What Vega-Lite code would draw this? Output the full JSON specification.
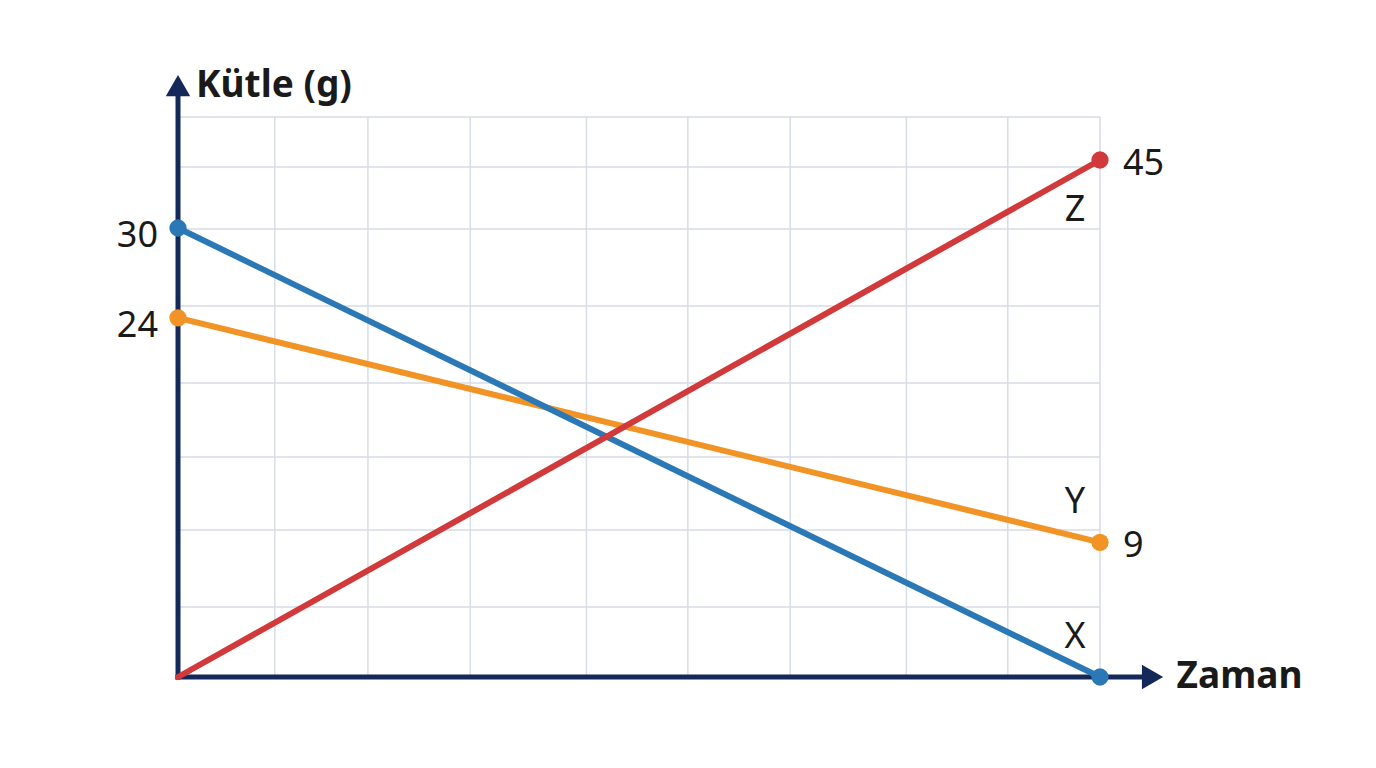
{
  "$schema": "https://vega.github.io/schema/vega-lite/v6.json",
  "width": 922,
  "height": 560,
  "autosize": "none",
  "padding": {"left": 178, "top": 117, "right": 276, "bottom": 91},
  "background": "white",
  "config": {"view": {"stroke": null}, "font": "Noto Sans"},
  "datasets": {
    "mass": [
      {"series": "Y", "t": 0, "m": 24},
      {"series": "Y", "t": 10, "m": 9},
      {"series": "X", "t": 0, "m": 30},
      {"series": "X", "t": 10, "m": 0},
      {"series": "Z", "t": 0, "m": 0},
      {"series": "Z", "t": 10, "m": 45}
    ],
    "hgrid": [
      {"m": 4.68}, {"m": 9.82}, {"m": 14.7}, {"m": 19.64},
      {"m": 24.79}, {"m": 29.93}, {"m": 43.46}, {"m": 54.49}
    ],
    "vgrid": [
      {"t": 1.05}, {"t": 2.06}, {"t": 3.17}, {"t": 4.43}, {"t": 5.53},
      {"t": 6.64}, {"t": 7.9}, {"t": 9.0}, {"t": 10.0}
    ]
  },
  "layer": [
    {
      "data": {"name": "hgrid"},
      "mark": {"type": "rule", "color": "#d7dde5", "strokeWidth": 1.5},
      "encoding": {
        "y": {"field": "m", "type": "quantitative", "axis": null,
              "scale": {"domain": [0, 30, 45], "range": [560, 111, 43], "nice": false, "zero": false}}
      }
    },
    {
      "data": {"name": "vgrid"},
      "mark": {"type": "rule", "color": "#d7dde5", "strokeWidth": 1.5},
      "encoding": {
        "x": {"field": "t", "type": "quantitative", "axis": null,
              "scale": {"domain": [0, 10], "nice": false, "zero": false}}
      }
    },
    {
      "data": {"values": [{}]},
      "mark": {"type": "rule", "color": "#14295a", "strokeWidth": 5, "strokeCap": "square"},
      "encoding": {
        "x": {"datum": 0, "type": "quantitative", "axis": null},
        "y": {"datum": 0, "type": "quantitative", "axis": null},
        "y2": {"datum": 59.3}
      }
    },
    {
      "data": {"values": [{}]},
      "mark": {"type": "rule", "color": "#14295a", "strokeWidth": 5, "strokeCap": "square"},
      "encoding": {
        "x": {"datum": 0, "type": "quantitative", "axis": null},
        "x2": {"datum": 10.49},
        "y": {"datum": 0, "type": "quantitative", "axis": null}
      }
    },
    {
      "data": {"values": [{}]},
      "mark": {"type": "point", "shape": "triangle-up", "filled": true, "size": 600, "color": "#14295a", "opacity": 1},
      "encoding": {
        "x": {"datum": 0, "type": "quantitative", "axis": null},
        "y": {"datum": 61.4, "type": "quantitative", "axis": null}
      }
    },
    {
      "data": {"values": [{}]},
      "mark": {"type": "point", "shape": "triangle-right", "filled": true, "size": 600, "color": "#14295a", "opacity": 1},
      "encoding": {
        "x": {"datum": 10.57, "type": "quantitative", "axis": null},
        "y": {"datum": 0, "type": "quantitative", "axis": null}
      }
    },
    {
      "data": {"name": "mass"},
      "mark": {"type": "line", "strokeWidth": 6, "strokeCap": "round"},
      "encoding": {
        "x": {"field": "t", "type": "quantitative", "axis": null},
        "y": {"field": "m", "type": "quantitative", "axis": null},
        "color": {"field": "series", "type": "nominal", "legend": null,
                  "scale": {"domain": ["Y", "X", "Z"], "range": ["#f29325", "#2b78b7", "#d2393a"]}}
      }
    },
    {
      "data": {"name": "mass"},
      "transform": [{"filter": "datum.series != 'Z' || datum.t > 0"}],
      "mark": {"type": "point", "filled": true, "size": 300, "opacity": 1},
      "encoding": {
        "x": {"field": "t", "type": "quantitative", "axis": null},
        "y": {"field": "m", "type": "quantitative", "axis": null},
        "color": {"field": "series", "type": "nominal", "legend": null}
      }
    },
    {
      "data": {"name": "mass"},
      "transform": [{"filter": "datum.t == 0 && datum.m > 0"}],
      "mark": {"type": "text", "align": "right", "baseline": "middle", "dx": -20, "dy": 8, "fontSize": 36, "color": "#1a1a1a"},
      "encoding": {
        "x": {"field": "t", "type": "quantitative", "axis": null},
        "y": {"field": "m", "type": "quantitative", "axis": null},
        "text": {"field": "m"}
      }
    },
    {
      "data": {"name": "mass"},
      "transform": [{"filter": "datum.t == 10 && datum.m > 0"}],
      "mark": {"type": "text", "align": "left", "baseline": "middle", "dx": 23, "dy": 4, "fontSize": 36, "color": "#1a1a1a"},
      "encoding": {
        "x": {"field": "t", "type": "quantitative", "axis": null},
        "y": {"field": "m", "type": "quantitative", "axis": null},
        "text": {"field": "m"}
      }
    },
    {
      "data": {"name": "mass"},
      "transform": [{"filter": "datum.t == 10 && datum.series != 'Z'"}],
      "mark": {"type": "text", "align": "center", "baseline": "middle", "dx": -25, "dy": -40, "fontSize": 36, "color": "#1a1a1a"},
      "encoding": {
        "x": {"field": "t", "type": "quantitative", "axis": null},
        "y": {"field": "m", "type": "quantitative", "axis": null},
        "text": {"field": "series"}
      }
    },
    {
      "data": {"name": "mass"},
      "transform": [{"filter": "datum.t == 10 && datum.series == 'Z'"}],
      "mark": {"type": "text", "align": "center", "baseline": "middle", "dx": -25, "dy": 50, "fontSize": 36, "color": "#1a1a1a"},
      "encoding": {
        "x": {"field": "t", "type": "quantitative", "axis": null},
        "y": {"field": "m", "type": "quantitative", "axis": null},
        "text": {"field": "series"}
      }
    },
    {
      "data": {"values": [{"label": "Kütle (g)"}]},
      "mark": {"type": "text", "align": "left", "baseline": "middle", "dx": 18, "dy": 0, "fontSize": 37, "fontWeight": "bold", "color": "#1a1a1a"},
      "encoding": {
        "x": {"datum": 0, "type": "quantitative", "axis": null},
        "y": {"datum": 61.4, "type": "quantitative", "axis": null},
        "text": {"field": "label"}
      }
    },
    {
      "data": {"values": [{"label": "Zaman"}]},
      "mark": {"type": "text", "align": "left", "baseline": "middle", "dx": 24, "dy": 0, "fontSize": 37, "fontWeight": "bold", "color": "#1a1a1a"},
      "encoding": {
        "x": {"datum": 10.57, "type": "quantitative", "axis": null},
        "y": {"datum": 0, "type": "quantitative", "axis": null},
        "text": {"field": "label"}
      }
    }
  ]
}
